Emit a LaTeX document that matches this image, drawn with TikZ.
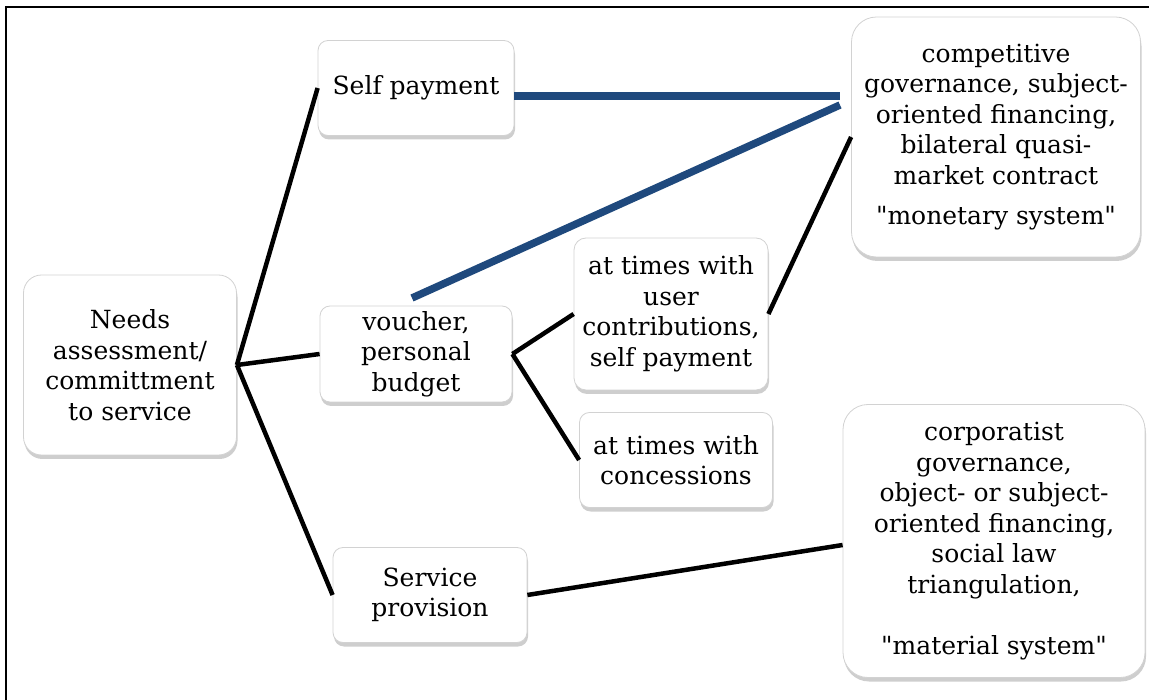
\documentclass[tikz,border=0pt]{standalone}
\usepackage{fontspec}
\setmainfont{DejaVu Serif}
\newfontfamily\qfont{DejaVu Serif}
\usetikzlibrary{shadows}
\definecolor{linkblue}{RGB}{31,73,125}
\newcommand{\sq}{{\qfont"}}
\tikzset{
  box/.style={draw=gray!35, line width=0.8pt, fill=white, align=center,
    font=\fontsize{25}{30.5}\selectfont, inner sep=0pt,
    drop shadow={shadow xshift=1pt, shadow yshift=-4pt, opacity=0.45, fill=gray!85}},
  conn/.style={line width=4.5pt, black},
  blueconn/.style={line width=7.5pt, linkblue},
}
\begin{document}
\begin{tikzpicture}[x=1pt, y=-1pt]
\useasboundingbox (0,0) rectangle (1149,700);
\draw[line width=2.5pt] (6,702) -- (6,7) -- (1151,7);

\node[box, rounded corners=18pt, minimum width=213pt, minimum height=180pt] (needs) at (130,365)
  {Needs\\assessment/\\committment\\to service};
\node[box, rounded corners=10pt, minimum width=196pt, minimum height=95pt] (self) at (416,88)
  {Self payment};
\node[box, rounded corners=10pt, minimum width=192pt, minimum height=96pt] (voucher) at (416,354)
  {voucher,\\personal\\budget};
\node[box, rounded corners=12pt, minimum width=194pt, minimum height=152pt] (user) at (671,314)
  {at times with\\user\\contributions,\\self payment};
\node[box, rounded corners=10pt, minimum width=193pt, minimum height=95pt] (conc) at (676,460)
  {at times with\\concessions};
\node[box, rounded corners=10pt, minimum width=194pt, minimum height=95pt] (serv) at (430,595)
  {Service\\provision};
\node[box, rounded corners=25pt, minimum width=289pt, minimum height=240pt] (comp) at (996,137)
  {competitive\\governance, subject-\\oriented financing,\\bilateral quasi-\\market contract\\[10pt]\sq monetary system\sq};
\node[box, rounded corners=25pt, minimum width=302pt, minimum height=273pt] (corp) at (994,541)
  {corporatist\\governance,\\object- or subject-\\oriented financing,\\social law\\triangulation,\\ \\\sq material system\sq};

\coordinate (hub) at (needs.east);
\draw[conn] (hub) -- (self.west |- 0,88);
\draw[conn] (hub) -- (voucher.west);
\draw[conn] (hub) -- (serv.west);
\draw[conn] (voucher.east) -- (user.west);
\draw[conn] (voucher.east) -- (conc.west);
\draw[conn] (user.east) -- (comp.west);
\draw[conn] (serv.east) -- ([yshift=-4pt]corp.west);

\coordinate (bt) at (840,96);
\coordinate (bb) at (840,105);
\coordinate (vt) at (412,298);
\draw[blueconn] (self.east |- bt) -- (bt);
\draw[blueconn] (vt) -- (bb);
\end{tikzpicture}
\end{document}
